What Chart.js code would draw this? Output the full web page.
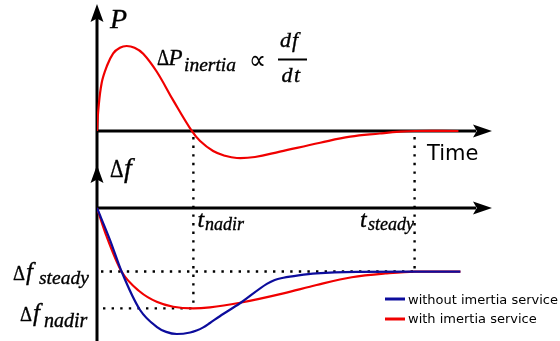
<!DOCTYPE html>
<html>
<head>
<meta charset="utf-8">
<script src="https://cdn.jsdelivr.net/npm/chart.js@4.4.0/dist/chart.umd.min.js"></script>
<style>
  html, body { margin: 0; padding: 0; background: #fff; }
  #wrap { width: 560px; height: 341px; }
</style>
</head>
<body>
<div id="wrap"><canvas id="chart" width="560" height="341"></canvas></div>
<script>
// --- data (time in arbitrary units) ---
var timeP = [0, 0.033, 0.118, 0.245, 0.41, 0.58, 0.75, 0.95, 1.17, 1.51, 1.93, 2.40, 2.61, 2.94, 3.24, 3.54, 4.0, 4.63, 5.65, 6.41, 7.16, 7.67, 8.05, 9.15];
var powerP = [0, 0.247, 0.565, 0.757, 0.914, 0.98, 1.0, 0.98, 0.91, 0.70, 0.36, 0, -0.118, -0.236, -0.292, -0.318, -0.306, -0.243, -0.138, -0.067, -0.03, -0.008, 0, 0];

var timeBlue = [0, 0.33, 0.625, 1.09, 1.51, 1.75, 2.02, 2.36, 2.52, 2.69, 2.86, 3.11, 3.62, 4.30, 4.50, 4.72, 5.10, 5.56, 6.57, 8.05, 9.2];
var freqNoInertia = [0, -0.252, -0.502, -0.803, -0.935, -0.975, -0.992, -0.980, -0.965, -0.940, -0.905, -0.852, -0.750, -0.597, -0.566, -0.549, -0.530, -0.514, -0.502, -0.5, -0.5];

var timeRed = [0, 0.246, 0.625, 1.09, 1.51, 1.93, 2.44, 2.86, 3.62, 4.72, 5.56, 6.45, 7.3, 8.05, 9.2];
var freqInertia = [0, -0.226, -0.502, -0.659, -0.738, -0.777, -0.790, -0.782, -0.746, -0.672, -0.606, -0.545, -0.515, -0.5, -0.5];

var tNadir = 2.44, tSteady = 8.04;
var fNadir = -0.79, fSteady = -0.5;

var seriesLabels = ['without imertia service', 'with imertia service'];
var blue = '#0c0c9c', red = '#f00000';

function pts(xs, ys) {
    return xs.map(function(v, i) { return { x: v, y: ys[i] }; });
}

function arrow(ctx, tipX, tipY, dir, len, half) {
    ctx.beginPath();
    if (dir === 'up') {
        ctx.moveTo(tipX, tipY);
        ctx.lineTo(tipX - half, tipY + len);
        ctx.lineTo(tipX, tipY + len * 0.8);
        ctx.lineTo(tipX + half, tipY + len);
    } else {
        ctx.moveTo(tipX, tipY);
        ctx.lineTo(tipX - len, tipY - half);
        ctx.lineTo(tipX - len * 0.8, tipY);
        ctx.lineTo(tipX - len, tipY + half);
    }
    ctx.closePath();
    ctx.fill();
}

// serif math text, slightly emboldened with a thin stroke
function txt(ctx, s, x, y, font, maxW, bold) {
    ctx.font = font;
    if (maxW) ctx.fillText(s, x, y, maxW); else ctx.fillText(s, x, y);
    if (bold) {
        ctx.lineWidth = bold;
        if (maxW) ctx.strokeText(s, x, y, maxW); else ctx.strokeText(s, x, y);
    }
}

var schematic = {
    id: 'schematic',
    beforeDatasetsDraw: function(chart) {
        var ctx = chart.ctx, area = chart.chartArea;
        var sx = chart.scales.x, sp = chart.scales.yP, sf = chart.scales.yF;
        var x0 = sx.getPixelForValue(0);
        var yP0 = sp.getPixelForValue(0), yF0 = sf.getPixelForValue(0);
        ctx.save();
        ctx.strokeStyle = '#000';
        ctx.fillStyle = '#000';

        // dotted guides
        ctx.lineWidth = 2.4;
        ctx.setLineDash([2.4, 6.2]);
        var xn = sx.getPixelForValue(tNadir), xs = sx.getPixelForValue(tSteady);
        var yn = sf.getPixelForValue(fNadir), ys = sf.getPixelForValue(fSteady);
        ctx.beginPath();
        ctx.moveTo(xn, yP0 + 6); ctx.lineTo(xn, yn);
        ctx.moveTo(xs, yP0 + 6); ctx.lineTo(xs, ys);
        ctx.moveTo(x0 + 4, ys); ctx.lineTo(xs, ys);
        ctx.moveTo(x0 + 6, yn); ctx.lineTo(xn, yn);
        ctx.stroke();
        ctx.setLineDash([]);

        // axes
        ctx.lineWidth = 3;
        ctx.beginPath();
        ctx.moveTo(x0, area.bottom); ctx.lineTo(x0, 18);
        ctx.moveTo(x0, yP0); ctx.lineTo(area.right - 16, yP0);
        ctx.moveTo(x0, yF0); ctx.lineTo(area.right - 16, yF0);
        ctx.stroke();
        arrow(ctx, x0, 4, 'up', 18, 6.5);
        arrow(ctx, x0, 165, 'up', 18, 6.5);
        arrow(ctx, area.right, yP0, 'right', 19, 6.5);
        arrow(ctx, area.right, yF0, 'right', 19, 6.5);
        ctx.restore();
    },
    afterDatasetsDraw: function(chart) {
        var ctx = chart.ctx;
        var serif = '"Liberation Serif"';
        var b = 0.35;
        ctx.save();
        ctx.fillStyle = '#000';
        ctx.strokeStyle = '#000';
        ctx.textBaseline = 'alphabetic';
        ctx.textAlign = 'left';

        // P axis label
        txt(ctx, 'P', 110, 28, 'italic 28px ' + serif, 0, b);
        // ΔP_inertia ∝ df/dt
        txt(ctx, '\u0394', 157, 65, '23px ' + serif, 12, b);
        txt(ctx, 'P', 168.5, 65, 'italic 23px ' + serif, 0, b);
        txt(ctx, 'inertia', 184, 70.5, 'italic 19.5px ' + serif, 0, b);
        txt(ctx, '\u221D', 249, 69, '27px "DejaVu Sans"', 17);
        txt(ctx, 'd', 280, 46.5, 'italic 22px ' + serif, 0, b);
        txt(ctx, 'f', 292, 46.5, 'italic 22px ' + serif, 0, b);
        txt(ctx, 'd', 281.5, 81.5, 'italic 22px ' + serif, 0, b);
        txt(ctx, 't', 294, 81.5, 'italic 22px ' + serif, 0, b);
        ctx.fillRect(278, 58.5, 29, 2);
        // Time
        txt(ctx, 'Time', 427, 160, '21px "DejaVu Sans"');
        // Δf axis label
        txt(ctx, '\u0394', 110, 176.5, '25px ' + serif, 13.5, b);
        txt(ctx, 'f', 124, 176.5, 'italic 28px ' + serif, 0, b);
        // t labels
        txt(ctx, 't', 197.5, 227, 'italic 24px ' + serif, 0, b);
        txt(ctx, 'nadir', 205, 230, 'italic 18px ' + serif, 0, b);
        txt(ctx, 't', 360, 227, 'italic 24px ' + serif, 0, b);
        txt(ctx, 'steady', 368, 229.5, 'italic 18px ' + serif, 0, b);
        // Δf labels
        txt(ctx, '\u0394', 13, 280, '20px ' + serif, 12, b);
        txt(ctx, 'f', 26, 280, 'italic 25px ' + serif, 0, b);
        txt(ctx, 'steady', 39, 283.5, 'italic 19.5px ' + serif, 0, b);
        txt(ctx, '\u0394', 20, 321, '20px ' + serif, 12, b);
        txt(ctx, 'f', 33, 321, 'italic 25px ' + serif, 0, b);
        txt(ctx, 'nadir', 44, 326.5, 'italic 20px ' + serif, 0, b);

        // legend
        var ds = chart.data.datasets;
        var rows = [[ds[1], 299, 303.5], [ds[2], 319, 322.5]];
        rows.forEach(function(r) {
            ctx.strokeStyle = r[0].borderColor;
            ctx.lineWidth = 3;
            ctx.beginPath();
            ctx.moveTo(385, r[1]); ctx.lineTo(405, r[1]);
            ctx.stroke();
            txt(ctx, r[0].label, 408, r[2], '13px "DejaVu Sans"');
        });
        ctx.restore();
    }
};

var smooth = { borderWidth: 2.2, pointRadius: 0, tension: 0.4 };
var mono = { borderWidth: 2.2, pointRadius: 0, cubicInterpolationMode: 'monotone' };

new Chart(document.getElementById('chart').getContext('2d'), {
    type: 'line',
    data: {
        datasets: [
            Object.assign({ label: 'P', data: pts(timeP, powerP), yAxisID: 'yP', borderColor: red }, smooth),
            Object.assign({ label: seriesLabels[0], data: pts(timeBlue, freqNoInertia), yAxisID: 'yF', borderColor: blue }, mono),
            Object.assign({ label: seriesLabels[1], data: pts(timeRed, freqInertia), yAxisID: 'yF', borderColor: red }, mono)
        ]
    },
    options: {
        responsive: false,
        animation: false,
        layout: { padding: { left: 97, right: 68, top: 0, bottom: 0 } },
        plugins: { legend: { display: false }, tooltip: { enabled: false } },
        scales: {
            x: { type: 'linear', min: 0, max: 10, display: false },
            yP: { type: 'linear', min: -2.471, max: 1.541, display: false },
            yF: { type: 'linear', min: -1.047, max: 1.638, display: false }
        }
    },
    plugins: [schematic]
});
</script>
</body>
</html>
